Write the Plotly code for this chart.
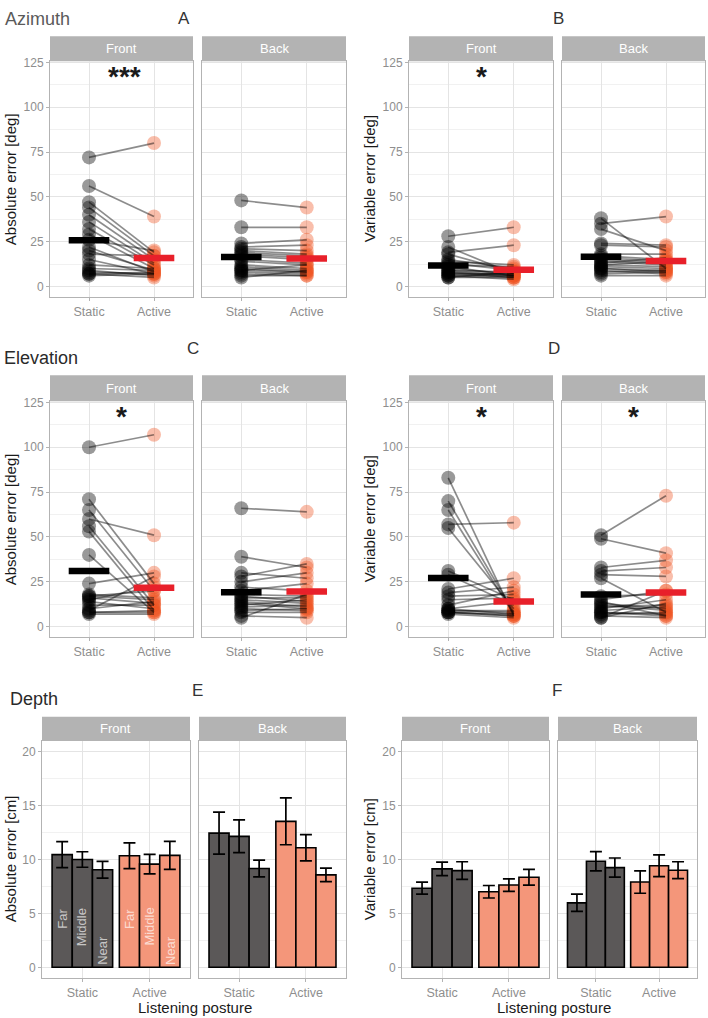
import numpy as np
import plotly.graph_objects as go

W, H = 708, 1018
FONT = "Liberation Sans, Helvetica, Arial, sans-serif"

postures = ["Static", "Active"]
facets = ["Front", "Back"]
distances = ["Far", "Middle", "Near"]

# ---- Azimuth: absolute error [deg] (one value per participant) ----
az_abs_front_static = [72, 56, 47, 44, 40, 36, 32, 29, 26, 22, 20, 18, 15, 12, 9, 8, 7, 7, 10, 6]
az_abs_front_active = [80, 39, 19, 17, 15, 13, 12, 10, 20, 8, 9, 17, 7, 10, 6, 7, 8, 5, 9, 7]
az_abs_back_static = [48, 33, 24, 22, 21, 20, 19, 18, 17, 15, 14, 12, 11, 10, 9, 8, 7, 6, 5, 9]
az_abs_back_active = [44, 33, 26, 23, 20, 18, 17, 16, 15, 13, 12, 10, 9, 8, 8, 7, 6, 6, 9, 12]

# ---- Azimuth: variable error [deg] ----
az_var_front_static = [28, 22, 19, 18, 15, 14, 13, 12, 11, 10, 9, 8, 8, 7, 7, 6, 6, 5, 5, 9]
az_var_front_active = [33, 7, 23, 8, 10, 12, 9, 11, 6, 7, 8, 5, 6, 7, 5, 6, 4, 8, 5, 6]
az_var_back_static = [38, 35, 32, 24, 23, 18, 17, 16, 15, 14, 13, 12, 11, 10, 10, 9, 8, 7, 6, 12]
az_var_back_active = [10, 39, 20, 23, 22, 18, 15, 14, 13, 12, 16, 11, 10, 9, 8, 7, 9, 8, 6, 14]

# ---- Elevation: absolute error [deg] ----
el_abs_front_static = [100, 71, 65, 60, 56, 53, 40, 24, 18, 17, 16, 15, 14, 12, 10, 8, 8, 7, 9, 17]
el_abs_front_active = [107, 24, 20, 51, 12, 9, 8, 30, 16, 15, 13, 22, 10, 12, 14, 9, 8, 7, 28, 20]
el_abs_back_static = [66, 39, 30, 28, 25, 22, 20, 18, 17, 16, 15, 14, 13, 12, 11, 10, 9, 8, 6, 5]
el_abs_back_active = [64, 33, 27, 35, 30, 20, 24, 17, 14, 16, 13, 11, 10, 15, 12, 9, 10, 8, 5, 18]

# ---- Elevation: variable error [deg] ----
el_var_front_static = [83, 70, 65, 57, 55, 31, 29, 21, 19, 17, 15, 12, 10, 9, 9, 8, 8, 7, 8, 10]
el_var_front_active = [6, 8, 7, 58, 10, 15, 12, 27, 22, 18, 16, 20, 14, 9, 8, 6, 7, 5, 6, 7]
el_var_back_static = [51, 49, 33, 31, 29, 27, 17, 15, 13, 12, 11, 10, 9, 8, 8, 7, 6, 5, 5, 14]
el_var_back_active = [73, 41, 37, 33, 28, 8, 18, 20, 10, 9, 12, 15, 11, 7, 6, 8, 5, 13, 20, 6]

# ---- Depth: absolute error [cm], means and error half-widths (Far, Middle, Near) ----
dp_abs_front_static = [10.45, 10.0, 9.05]
dp_abs_front_static_err = [1.2, 0.72, 0.78]
dp_abs_front_active = [10.35, 9.57, 10.38]
dp_abs_front_active_err = [1.2, 0.9, 1.3]
dp_abs_back_static = [12.45, 12.15, 9.17]
dp_abs_back_static_err = [1.95, 1.52, 0.78]
dp_abs_back_active = [13.54, 11.09, 8.57]
dp_abs_back_active_err = [2.17, 1.22, 0.63]

# ---- Depth: variable error [cm] ----
dp_var_front_static = [7.34, 9.13, 8.97]
dp_var_front_static_err = [0.56, 0.63, 0.82]
dp_var_front_active = [7.01, 7.63, 8.36]
dp_var_front_active_err = [0.58, 0.58, 0.73]
dp_var_back_static = [5.98, 9.84, 9.25]
dp_var_back_static_err = [0.8, 0.89, 0.89]
dp_var_back_active = [7.91, 9.42, 9.01]
dp_var_back_active_err = [1.04, 1.01, 0.78]

# ---------------------------------------------------------------------------
def fx(px):
    return px / W


def fy(py):
    return 1 - py / H


ROWS = [
    dict(strip=(30.5, 55.7), plot=(55.7, 292.7)),
    dict(strip=(371.5, 397.7), plot=(397.7, 635.0)),
    dict(strip=(715.0, 739.3), plot=(739.3, 977.3)),
]

GRID = "#E4E4E4"
MINOR = "#F1F1F1"
BORDER = "#B3B3B3"
TICKTXT = "#8E8E8E"
STATIC_PT = "rgba(0,0,0,0.40)"
ACTIVE_PT = "rgba(238,85,35,0.38)"
LINE_C = "rgba(0,0,0,0.45)"
STATIC_BAR = "#5B5858"
ACTIVE_BAR = "#F4967A"

fig = go.Figure()
layout = {}
shapes = []
annotations = []
counter = [0]


def new_axes(x0, x1, row, left, xkw, ykw):
    counter[0] += 1
    k = counter[0]
    xname = "xaxis" if k == 1 else f"xaxis{k}"
    yname = "yaxis" if k == 1 else f"yaxis{k}"
    xref = "x" if k == 1 else f"x{k}"
    yref = "y" if k == 1 else f"y{k}"
    py0, py1 = ROWS[row]["plot"]
    xa = dict(domain=[fx(x0), fx(x1)], anchor=yref, showline=True, mirror=True,
              linecolor=BORDER, linewidth=1, showgrid=True, gridcolor=GRID, gridwidth=1,
              zeroline=False, ticks="outside", ticklen=3, tickcolor=BORDER,
              tickfont=dict(size=12.5, color=TICKTXT, family=FONT))
    xa.update(xkw)
    ya = dict(domain=[fy(py1), fy(py0)], anchor=xref, showline=True, mirror=True,
              linecolor=BORDER, linewidth=1, showgrid=True, gridcolor=GRID, gridwidth=1,
              zeroline=False, ticks="outside" if left else "", ticklen=3, tickcolor=BORDER,
              showticklabels=left, tickfont=dict(size=12, color=TICKTXT, family=FONT))
    ya.update(ykw)
    layout[xname] = xa
    layout[yname] = ya
    return xref, yref


def add_strip(x0, x1, row, label):
    sy0, sy1 = ROWS[row]["strip"]
    shapes.append(dict(type="rect", xref="paper", yref="paper", x0=fx(x0), x1=fx(x1),
                       y0=fy(sy1), y1=fy(sy0), fillcolor=BORDER, line=dict(width=0), layer="below"))
    annotations.append(dict(text=label, xref="paper", yref="paper", x=fx((x0 + x1) / 2),
                            y=fy((sy0 + sy1) / 2), showarrow=False, xanchor="center", yanchor="middle",
                            font=dict(size=13, color="white", family=FONT)))


def text(txt, x, y, size, color="#333333", xanchor="center", angle=0):
    annotations.append(dict(text=txt, xref="paper", yref="paper",
                            x=fx(x), y=fy(y), showarrow=False, xanchor=xanchor, yanchor="middle",
                            textangle=angle, font=dict(size=size, color=color, family=FONT)))


point_panels = [
    dict(row=0, cols=[(50, 193), (202, 346)], ytitle="Absolute error [deg]", ytx=10,
         data=[(az_abs_front_static, az_abs_front_active), (az_abs_back_static, az_abs_back_active)],
         stars=["***", ""]),
    dict(row=0, cols=[(409, 553), (562, 705)], ytitle="Variable error [deg]", ytx=369,
         data=[(az_var_front_static, az_var_front_active), (az_var_back_static, az_var_back_active)],
         stars=["*", ""]),
    dict(row=1, cols=[(50, 193), (202, 346)], ytitle="Absolute error [deg]", ytx=10,
         data=[(el_abs_front_static, el_abs_front_active), (el_abs_back_static, el_abs_back_active)],
         stars=["*", ""]),
    dict(row=1, cols=[(409, 553), (562, 705)], ytitle="Variable error [deg]", ytx=369,
         data=[(el_var_front_static, el_var_front_active), (el_var_back_static, el_var_back_active)],
         stars=["*", "*"]),
]

for p in point_panels:
    for fi, ((x0, x1), (s, a), star) in enumerate(zip(p["cols"], p["data"], p["stars"])):
        xr, yr = new_axes(
            x0, x1, p["row"], fi == 0,
            dict(range=[0.4, 2.6], tickmode="array", tickvals=[1, 2], ticktext=postures),
            dict(range=[-5.9, 125.6], tickmode="linear", tick0=0, dtick=25,
                 minor=dict(tickmode="linear", tick0=0, dtick=12.5, showgrid=True,
                            gridcolor=MINOR, gridwidth=1, ticks="")))
        add_strip(x0, x1, p["row"], facets[fi])
        n = len(s)
        fig.add_trace(go.Scatter(x=[1] * n, y=s, mode="markers", xaxis=xr, yaxis=yr,
                                 marker=dict(size=14, color=STATIC_PT, line=dict(width=0)),
                                 hoverinfo="skip"))
        fig.add_trace(go.Scatter(x=[2] * n, y=a, mode="markers", xaxis=xr, yaxis=yr,
                                 marker=dict(size=14, color=ACTIVE_PT, line=dict(width=0)),
                                 hoverinfo="skip"))
        lx, ly = [], []
        for sv, av in zip(s, a):
            lx += [1, 2, None]
            ly += [sv, av, None]
        fig.add_trace(go.Scatter(x=lx, y=ly, mode="lines", xaxis=xr, yaxis=yr,
                                 line=dict(color=LINE_C, width=1.7), hoverinfo="skip"))
        fig.add_trace(go.Scatter(x=[1], y=[float(np.mean(s))], mode="markers", xaxis=xr, yaxis=yr,
                                 marker=dict(symbol="line-ew", size=29,
                                             line=dict(width=6.5, color="black"))))
        fig.add_trace(go.Scatter(x=[2], y=[float(np.mean(a))], mode="markers", xaxis=xr, yaxis=yr,
                                 marker=dict(symbol="line-ew", size=29,
                                             line=dict(width=6.5, color="#E8202A"))))
        if star:
            annotations.append(dict(text=f"<b>{star}</b>", xref=xr, yref=yr,
                                    x=1.55 if star == "***" else 1.5, y=117, showarrow=False,
                                    xanchor="center", yanchor="middle",
                                    font=dict(size=28, color="#1a1a1a", family=FONT)))
    py0, py1 = ROWS[p["row"]]["plot"]
    text(p["ytitle"], p["ytx"], (py0 + py1) / 2, 15, color="#1a1a1a", angle=-90)

bar_panels = [
    dict(cols=[(42, 190), (199, 346)], ytitle="Absolute error [cm]", ytx=10, xt=195,
         data=[(dp_abs_front_static, dp_abs_front_static_err, dp_abs_front_active, dp_abs_front_active_err),
               (dp_abs_back_static, dp_abs_back_static_err, dp_abs_back_active, dp_abs_back_active_err)],
         labels=True),
    dict(cols=[(402, 549), (558, 697)], ytitle="Variable error [cm]", ytx=369, xt=554,
         data=[(dp_var_front_static, dp_var_front_static_err, dp_var_front_active, dp_var_front_active_err),
               (dp_var_back_static, dp_var_back_static_err, dp_var_back_active, dp_var_back_active_err)],
         labels=False),
]

label_y = [4.52, 3.74, 1.58]
for p in bar_panels:
    for fi, ((x0, x1), (sm, se, am, ae)) in enumerate(zip(p["cols"], p["data"])):
        xr, yr = new_axes(
            x0, x1, 2, fi == 0,
            dict(type="category", range=[-0.6, 1.6], categoryorder="array", categoryarray=postures),
            dict(range=[-0.95, 21.0], tickmode="linear", tick0=0, dtick=5,
                 minor=dict(tickmode="linear", tick0=0, dtick=2.5, showgrid=True,
                            gridcolor=MINOR, gridwidth=1, ticks="")))
        add_strip(x0, x1, 2, facets[fi])
        for j, dist in enumerate(distances):
            fig.add_trace(go.Bar(
                x=postures, y=[sm[j], am[j]], xaxis=xr, yaxis=yr, name=dist,
                marker=dict(color=[STATIC_BAR, ACTIVE_BAR], line=dict(color="black", width=1.6)),
                error_y=dict(type="data", array=[se[j], ae[j]], color="black", thickness=1.7, width=6),
                hoverinfo="skip"))
            if p["labels"] and fi == 0:
                for pi in range(len(postures)):
                    annotations.append(dict(text=dist, xref=xr, yref=yr, x=pi + (j - 1) * 0.3,
                                            y=label_y[j], showarrow=False, textangle=-90,
                                            xanchor="center", yanchor="middle",
                                            font=dict(size=13, color="rgba(255,255,255,0.68)",
                                                      family=FONT)))
    py0, py1 = ROWS[2]["plot"]
    text(p["ytitle"], p["ytx"], (py0 + py1) / 2, 15, color="#1a1a1a", angle=-90)
    text("Listening posture", p["xt"], 1007, 15, color="#1a1a1a")

# panel titles
text("Azimuth", 3, 13, 18, color="#5a5a5a", xanchor="left")
text("Elevation", 2, 354, 18, color="#2a2a2a", xanchor="left")
text("Depth", 8, 697, 18, color="#2a2a2a", xanchor="left")
for lab, x, y in [("A", 184, 13), ("B", 558, 13), ("C", 193, 345), ("D", 554, 345),
                  ("E", 197, 689), ("F", 557, 689)]:
    text(lab, x, y, 17, color="#333333")

fig.update_layout(
    width=W, height=H, margin=dict(l=0, r=0, t=0, b=0),
    paper_bgcolor="white", plot_bgcolor="white", showlegend=False,
    barmode="group", bargap=0.1, bargroupgap=0,
    font=dict(family=FONT),
    shapes=shapes, annotations=annotations, **layout)

fig.write_html(
    "out.html",
    config={"displayModeBar": False, "staticPlot": True},
    post_script=("document.documentElement.style.margin='0';document.body.style.margin='0';"
                 "document.body.style.padding='0';document.documentElement.style.overflow='hidden';"
                 "document.body.style.overflow='hidden';"))
